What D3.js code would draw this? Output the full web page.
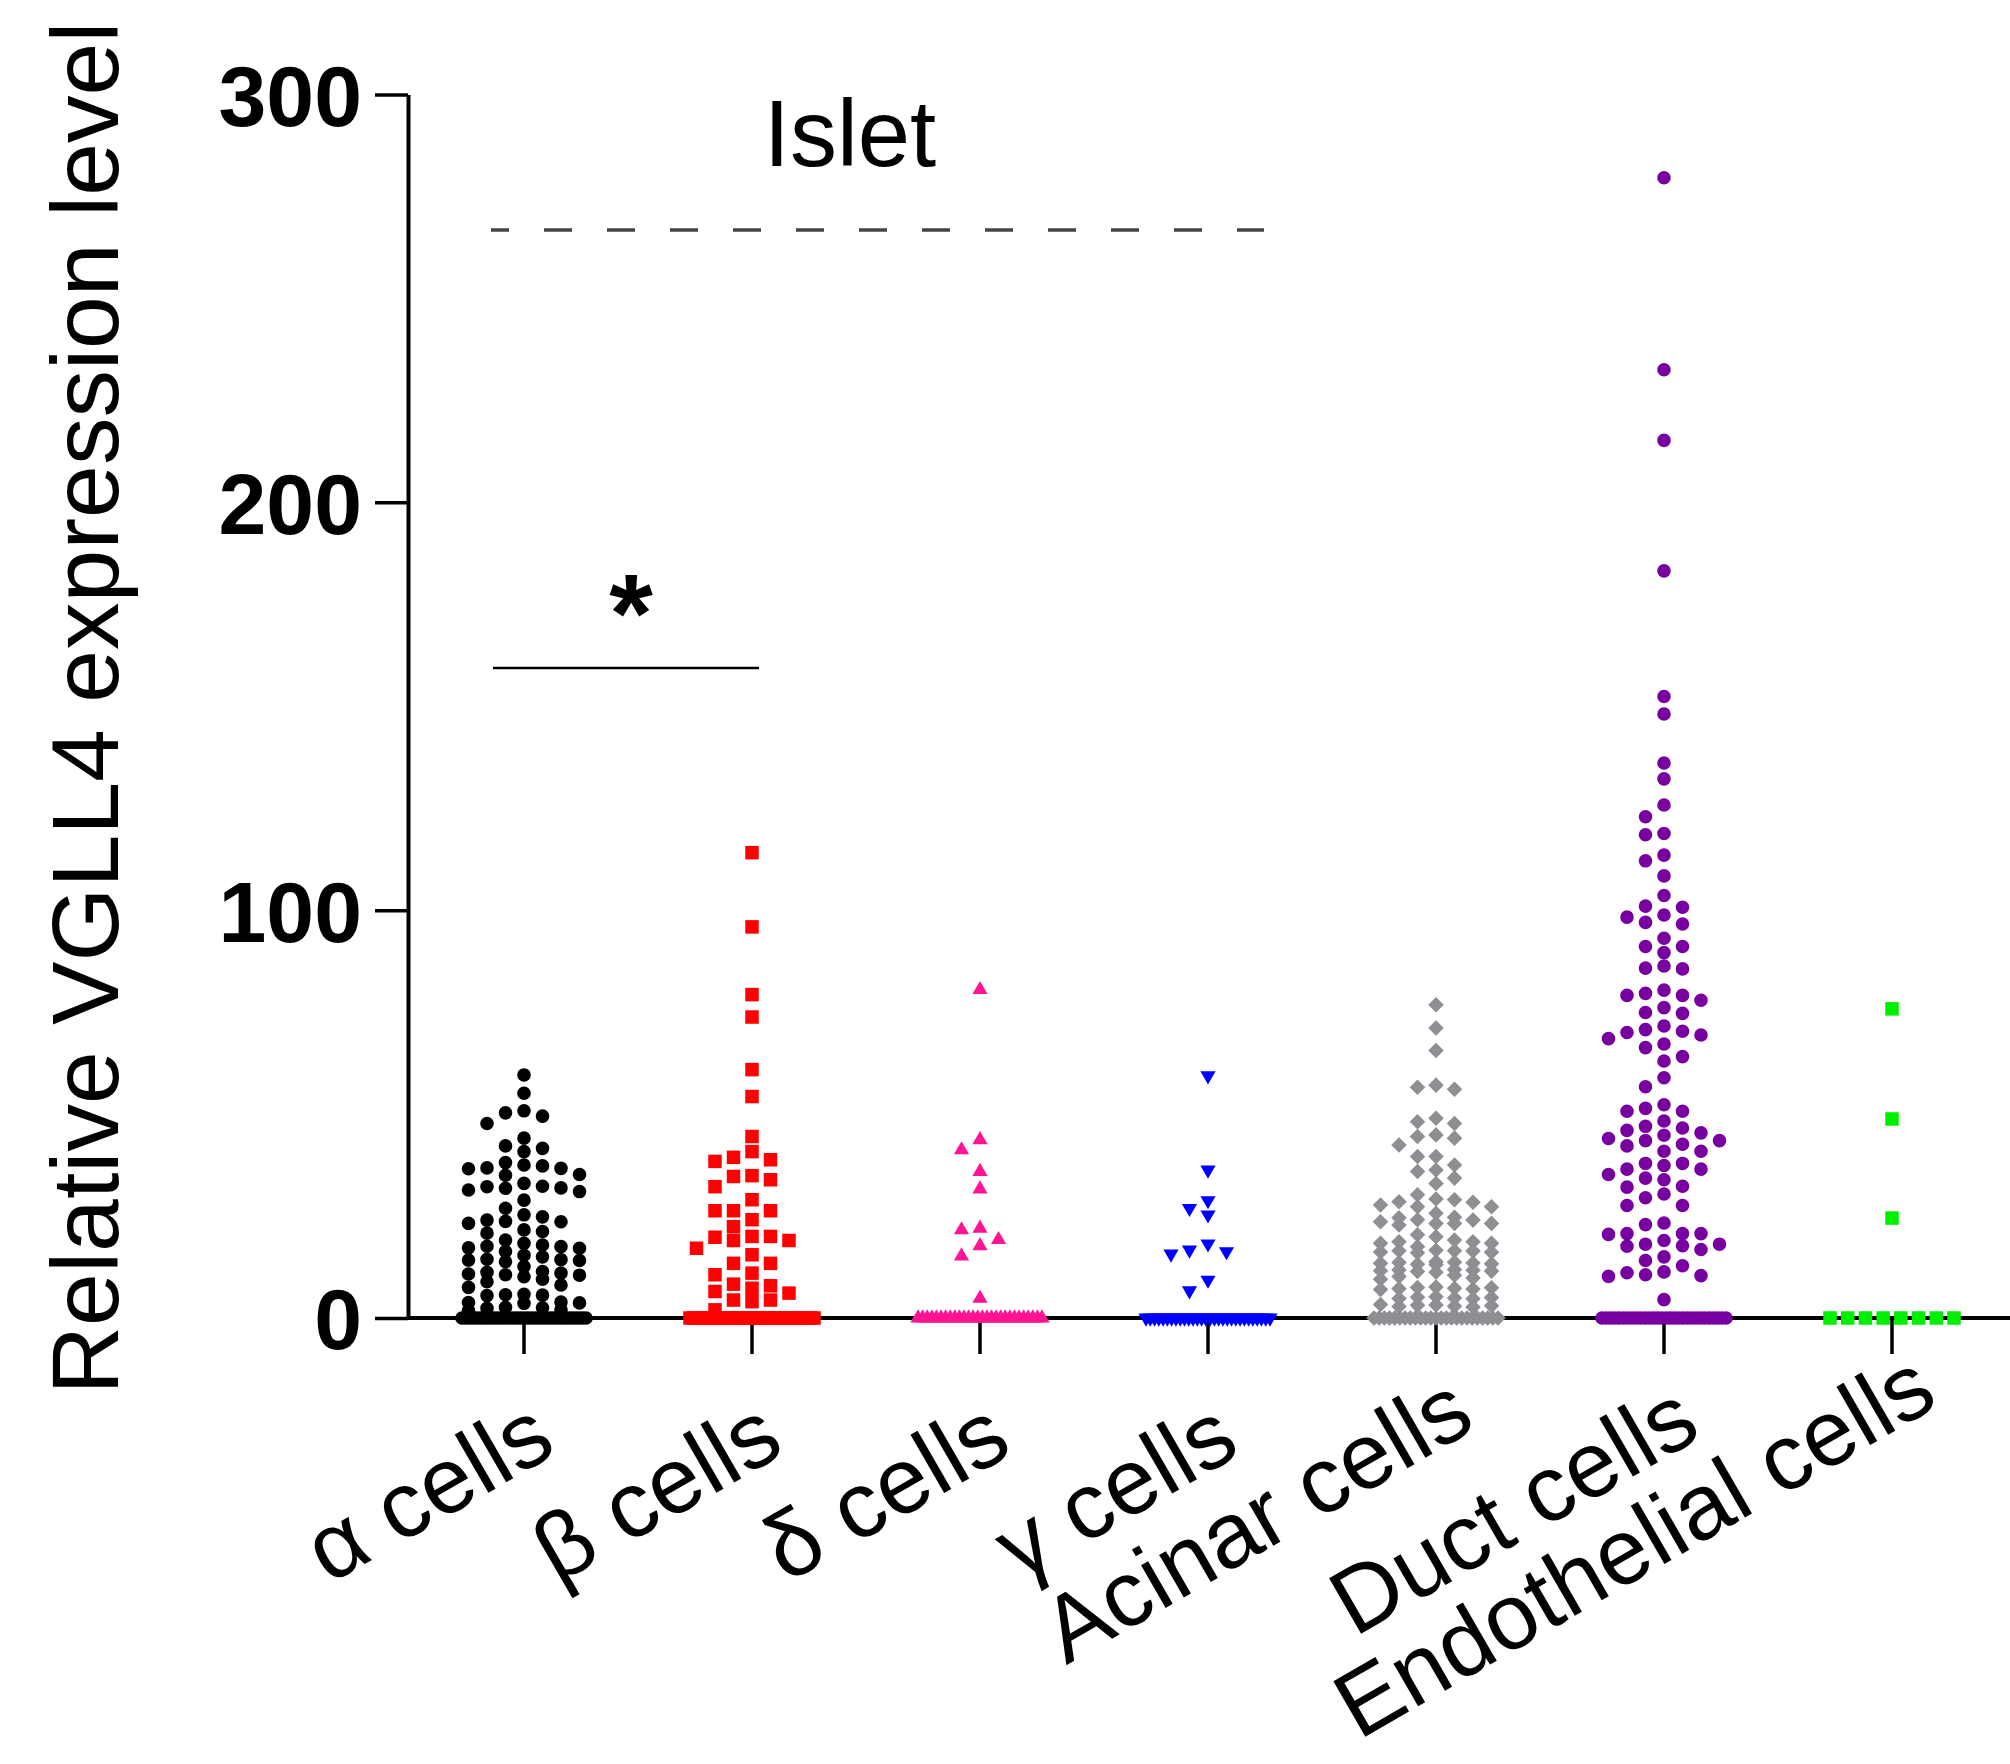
<!DOCTYPE html>
<html><head><meta charset="utf-8">
<script src="https://cdn.jsdelivr.net/npm/d3@7"></script>
<style>body{margin:0;background:#fff} svg{display:block}</style>
</head><body>
<svg id="chart" width="2010" height="1764"></svg>
<script>
// ---------------- data ----------------
const categories = ["α cells","β cells","δ cells","γ cells","Acinar cells","Duct cells","Endothelial cells"];
const yTicks = [0, 100, 200, 300];
const yTitle = "Relative VGLL4 expression level";

const alphaCells = [59.6,55.1,50.8,49.5,50.3,47.7,44.1,42.2,40.8,41.6,38.1,37.3,36.7,35.2,36.6,35.0,36.8,37.5,
  33.0,32.2,28.9,31.8,31.0,31.4,31.9,32.3,26.9,25.3,24.8,24.0,23.6,23.2,23.7,21.2,21.6,20.8,19.1,17.1,16.3,18.3,
  17.9,17.5,17.2,17.6,13.8,12.6,14.2,15.4,15.0,14.3,14.1,14.4,8.1,10.1,11.0,10.5,11.4,11.2,10.6,10.8,8.9,9.5,7.5,
  5.6,5.8,5.5,5.7,3.7,3.9,3.6,3.8,2.5,2.6,2.4,2.0,1.8,
  0,0,0,0,0,0,0,0,0,0,0,0,0,0,0,0,0,0,0,0,0,0,0,0,0,0,0,0,0,0,0,0,0,0,0];
const betaCells = [114.1,95.9,79.3,73.8,60.9,54.3,44.5,40.8,38.8,38.4,39.4,34.7,32.2,33.9,34.9,29.0,26.3,26.3,26.3,
  22.4,24.1,19.8,19.0,17.1,13.4,15.5,19.0,20.0,20.0,13.4,10.6,11.0,7.9,6.5,4.4,2.0,4.4,6.1,7.3,4.0,8.3,
  0,0,0,0,0,0,0,0,0,0,0,0,0,0,0,0,0,0,0,0,0,0,0,0,0,0,0,0,0,0,0,0,0,0,0];
const deltaCells = [80.5,43.7,41.2,35.9,31.6,22.0,19.2,21.6,17.7,15.2,4.8,
  0,0,0,0,0,0,0,0,0,0,0,0,0,0,0,0,0,0,0,0,0,0,0,0,0,0,0,0];
const gammaCells = [59.4,36.3,26.9,25.3,28.8,16.7,15.7,16.3,18.2,9.3,6.7,
  0,0,0,0,0,0,0,0,0,0,0,0,0,0,0,0,0,0,0,0,0,0,0,0,0,0,0,0,0,0];
const acinarCells = [76.8,71.1,65.6,56.6,56.1,57.1,47.7,49.0,48.1,44.9,42.4,44.1,44.5,39.6,39.6,35.9,37.5,36.3,
  34.3,33.0,30.2,29.0,28.4,29.2,28.5,27.3,27.3,27.7,25.7,23.2,23.2,24.7,24.0,23.6,24.1,24.6,22.8,23.2,20.4,19.1,
  19.9,18.7,18.3,17.5,18.7,18.3,16.5,16.2,16.6,16.0,16.4,16.1,16.5,13.5,13.2,13.7,13.4,13.6,13.3,13.1,13.8,11.8,
  11.5,11.9,11.2,11.6,11.4,11.7,10.5,10.2,9.8,9.5,7.3,7.1,7.5,7.2,7.4,7.0,7.6,4.9,5.1,4.8,5.0,4.7,5.2,3.0,2.8,
  3.2,2.9,3.1,2.7,3.3,
  0,0,0,0,0,0,0,0,0,0,0,0,0,0,0,0,0,0,0,0,0,0,0,0,0];
const ductCells = [279.6,232.5,215.2,183.2,152.4,148.1,136.1,132.2,125.8,122.9,118.5,118.8,113.5,112.1,108.4,
  103.6,100.7,98.3,96.6,97.0,98.8,101.0,91.1,91.1,93.1,89.6,86.3,85.6,85.8,79.1,80.4,79.6,77.9,79.1,76.1,74.7,
  74.9,71.6,70.0,69.4,66.3,68.5,70.3,70.7,67.2,63.0,64.1,58.9,56.7,52.3,50.7,50.7,51.4,48.3,46.6,47.0,45.4,44.0,
  40.9,43.5,42.6,43.5,44.8,40.9,46.0,42.2,36.5,35.2,32.1,37.9,33.9,37.4,32.3,37.9,34.3,36.5,29.5,27.6,27.6,30.4,
  23.3,19.0,20.7,18.1,20.7,17.7,20.5,15.0,20.7,16.8,22.9,17.6,18.1,14.1,12.8,11.1,10.2,10.4,10.6,11.3,4.5,
  0,0,0,0,0,0,0,0,0,0,0,0,0,0,0,0,0,0,0,0,0,0,0,0,0,0,0,0,0,0];
const endothelialCells = [75.8,48.8,24.5,0,0,0,0,0,0,0,0];

const seriesValues = [alphaCells, betaCells, deltaCells, gammaCells, acinarCells, ductCells, endothelialCells];
const seriesColors = ["#000000","#ff0000","#ff1493","#0000ff","#8e8e93","#7800a0","#00ee00"];
const seriesShapes = ["circle","square","triangle","triangleDown","diamond","circle","square"];

const sigLabel = "*";
const groupLabel = "Islet";

// ---------------- layout ----------------
const FONT = "'Liberation Sans', Arial, Helvetica, sans-serif";
const svg = d3.select("#chart");
const x0 = 408, x1 = 2006, yTop = 94.5, yBot = 1318;

const x = d3.scaleBand().domain(categories).range([x0 + 2, x1]).padding(0);
const y = d3.scaleLinear().domain([0, 300]).range([yBot, yTop]);
const cx = c => x(c) + x.bandwidth() / 2;

// y axis
const yAxis = svg.append("g").attr("transform", `translate(${x0},0)`)
  .call(d3.axisLeft(y).tickValues(yTicks).tickSize(33).tickSizeOuter(0).tickPadding(13).tickFormat(d3.format("d")));
yAxis.select(".domain").attr("stroke", "#000").attr("stroke-width", 4);
yAxis.selectAll(".tick line").attr("stroke", "#000").attr("stroke-width", 3.5);
yAxis.selectAll(".tick text").attr("font-family", FONT).attr("font-size", 86).attr("font-weight", "bold")
  .attr("fill", "#000").attr("dy", "0.36em");

// x axis
const xAxis = svg.append("g").attr("transform", `translate(0,${yBot})`)
  .call(d3.axisBottom(x).tickSize(36).tickSizeOuter(0).tickFormat(""));
xAxis.select(".domain").attr("stroke", "#000").attr("stroke-width", 4).attr("d", `M${x0},0H${x1 + 4}`);
xAxis.selectAll(".tick line").attr("stroke", "#000").attr("stroke-width", 3.5);

// x labels, rotated (anchor shifts slightly with label length, as in the reference)
const xl = svg.append("g").selectAll("text").data(categories).join("text")
  .attr("text-anchor", "end")
  .attr("font-family", FONT).attr("font-size", 93).attr("fill", "#000")
  .text(d => d);
xl.each(function (d) {
  const L = this.getComputedTextLength();
  const dx = 35 + (14 / 410) * (L - 266);
  const dy = 134 - (48 / 410) * (L - 266);
  d3.select(this).attr("transform", `translate(${cx(d) + dx},${yBot + dy}) rotate(-30)`);
});

// y title
svg.append("text")
  .attr("transform", `translate(118,${(19 + 1397) / 2}) rotate(-90)`)
  .attr("text-anchor", "middle")
  .attr("font-family", FONT).attr("font-size", 95).attr("fill", "#000")
  .text(yTitle);

// ---------------- beeswarm ----------------
const colStep = 18.5, maxCols = 3, diam = 13, zeroHalf = 62;
function swarm(values) {
  const out = [];
  const zeros = values.filter(v => v === 0);
  const nz = values.filter(v => v > 0).sort((a, b) => b - a);
  const placed = [];
  const order = [0];
  for (let k = 1; k <= maxCols; k++) { order.push(-k, k); }
  nz.forEach(v => {
    const py = y(v);
    let chosen = null, bestCol = 0, bestGap = -1;
    for (const c of order) {
      let gap = Infinity;
      for (const q of placed) if (q.col === c) gap = Math.min(gap, Math.abs(q.py - py));
      if (gap >= diam) { chosen = c; break; }
      if (gap > bestGap) { bestGap = gap; bestCol = c; }
    }
    if (chosen === null) chosen = bestCol;
    placed.push({ col: chosen, py });
    out.push({ v, dx: chosen * colStep });
  });
  const n = zeros.length;
  const sp = n > 1 ? Math.min(colStep, 2 * zeroHalf / (n - 1)) : 0;
  zeros.forEach((v, j) => out.unshift({ v, dx: (j - (n - 1) / 2) * sp }));
  return out;
}

const symbolFor = {
  circle: d3.symbol().type(d3.symbolCircle).size(Math.PI * 6.8 * 6.8),
  square: d3.symbol().type(d3.symbolSquare).size(13.5 * 13.5),
  triangle: d3.symbol().type(d3.symbolTriangle).size(100),
  triangleDown: d3.symbol().type(d3.symbolTriangle).size(100),
  diamond: d3.symbol().type(d3.symbolSquare).size(11 * 11)
};
const rotFor = { circle: 0, square: 0, triangle: 0, triangleDown: 180, diamond: 45 };

categories.forEach((cat, i) => {
  const pts = swarm(seriesValues[i]);
  const shape = seriesShapes[i];
  svg.append("g").selectAll("path").data(pts).join("path")
    .attr("d", symbolFor[shape]())
    .attr("transform", d => `translate(${cx(cat) + d.dx},${y(d.v)}) rotate(${rotFor[shape]})`)
    .attr("fill", seriesColors[i]);
});

// ---------------- annotations ----------------
// Islet dashed line
svg.append("line")
  .attr("x1", cx(categories[0]) - 33).attr("x2", cx(categories[3]) + 56)
  .attr("y1", 230).attr("y2", 230)
  .attr("stroke", "#444").attr("stroke-width", 3.5).attr("stroke-dasharray", "28,35").attr("stroke-dashoffset", 10);
svg.append("text")
  .attr("x", (cx(categories[1]) + cx(categories[2])) / 2 - 16).attr("y", 166)
  .attr("text-anchor", "middle").attr("font-family", FONT).attr("font-size", 94).attr("fill", "#000")
  .text(groupLabel);

// significance bar
const sx1 = cx(categories[0]) - 31, sx2 = cx(categories[1]) + 7;
svg.append("line").attr("x1", sx1).attr("x2", sx2).attr("y1", 668).attr("y2", 668)
  .attr("stroke", "#000").attr("stroke-width", 2.5);
svg.append("text").attr("x", (sx1 + sx2) / 2 + 5).attr("y", 652)
  .attr("text-anchor", "middle").attr("font-family", FONT).attr("font-size", 112).attr("font-weight", "bold")
  .attr("fill", "#000").text(sigLabel);
</script>
</body></html>
